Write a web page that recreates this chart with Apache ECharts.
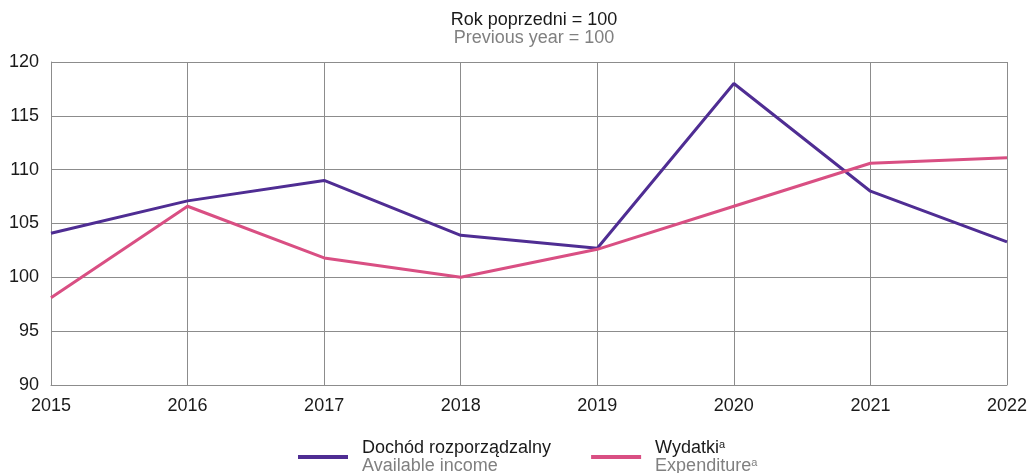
<!DOCTYPE html>
<html>
<head>
<meta charset="utf-8">
<script src="https://cdn.jsdelivr.net/npm/echarts@6/dist/echarts.min.js"></script>
<style>
  html, body { margin: 0; padding: 0; background: #fff; }
  #main { width: 1031px; height: 473px; }
</style>
</head>
<body>
<div id="main"></div>
<script>
var years = ["2015", "2016", "2017", "2018", "2019", "2020", "2021", "2022"];
var income = [104.1, 107.1, 109.0, 103.9, 102.7, 118.0, 108.0, 103.3];
var expenditure = [98.1, 106.6, 101.8, 100.0, 102.6, 106.6, 110.6, 111.1];
var yTicks = { min: 90, max: 120, interval: 5 };

var chart = echarts.init(document.getElementById("main"));
var font = "'Liberation Sans', Arial, sans-serif";

var option = {
  animation: false,
  title: {
    text: "{a|Rok poprzedni = 100}\n{b|Previous year = 100}",
    left: 529,
    textAlign: "center",
    top: 6,
    textStyle: {
      fontWeight: "normal",
      rich: {
        a: { fontFamily: font, fontSize: 18, fontWeight: "normal", color: "#1a1a1a", lineHeight: 18 },
        b: { fontFamily: font, fontSize: 18, fontWeight: "normal", color: "#808080", lineHeight: 18 }
      }
    }
  },
  grid: { left: 51, right: 24, top: 62, bottom: 88 },
  xAxis: {
    type: "category",
    data: years,
    boundaryGap: false,
    axisLine: { lineStyle: { color: "#8c8c8c", width: 1 } },
    axisTick: { show: false },
    axisLabel: { color: "#1a1a1a", fontFamily: font, fontSize: 18, margin: 12 },
    splitLine: { show: true, lineStyle: { color: "#8c8c8c", width: 1 } }
  },
  yAxis: {
    type: "value",
    min: yTicks.min,
    max: yTicks.max,
    interval: yTicks.interval,
    axisLine: { show: true, lineStyle: { color: "#8c8c8c", width: 1 } },
    axisTick: { show: false },
    axisLabel: { color: "#1a1a1a", fontFamily: font, fontSize: 18, margin: 12 },
    splitLine: { lineStyle: { color: "#8c8c8c", width: 1 } }
  },
  legend: {
    bottom: -2,
    left: 298,
    padding: 0,
    itemWidth: 50,
    itemHeight: 4,
    itemGap: 40,
    icon: "rect",
    data: [
      { name: "income", itemStyle: { color: "#4f2d93" } },
      { name: "expenditure", itemStyle: { color: "#d94f83" } }
    ],
    formatter: function (name) {
      if (name === "income") {
        return "{a|Dochód rozporządzalny}\n{b|Available income}";
      }
      return "{a|Wydatki}{s|a}\n{b|Expenditure}{t|a}";
    },
    textStyle: {
      padding: [0, 0, 0, 9],
      rich: {
        a: { fontFamily: font, fontSize: 18, color: "#1a1a1a", lineHeight: 18 },
        b: { fontFamily: font, fontSize: 18, color: "#808080", lineHeight: 18 },
        s: { fontFamily: font, fontSize: 11, color: "#1a1a1a", lineHeight: 18, verticalAlign: "top", padding: [0, 0, 6, 0] },
        t: { fontFamily: font, fontSize: 11, color: "#808080", lineHeight: 18, verticalAlign: "top", padding: [0, 0, 6, 0] }
      }
    }
  },
  series: [
    {
      name: "income",
      type: "line",
      data: income,
      symbol: "none",
      lineStyle: { color: "#4f2d93", width: 3 },
      itemStyle: { color: "#4f2d93" }
    },
    {
      name: "expenditure",
      type: "line",
      data: expenditure,
      symbol: "none",
      lineStyle: { color: "#d94f83", width: 3 },
      itemStyle: { color: "#d94f83" }
    }
  ]
};

chart.setOption(option);
</script>
</body>
</html>
